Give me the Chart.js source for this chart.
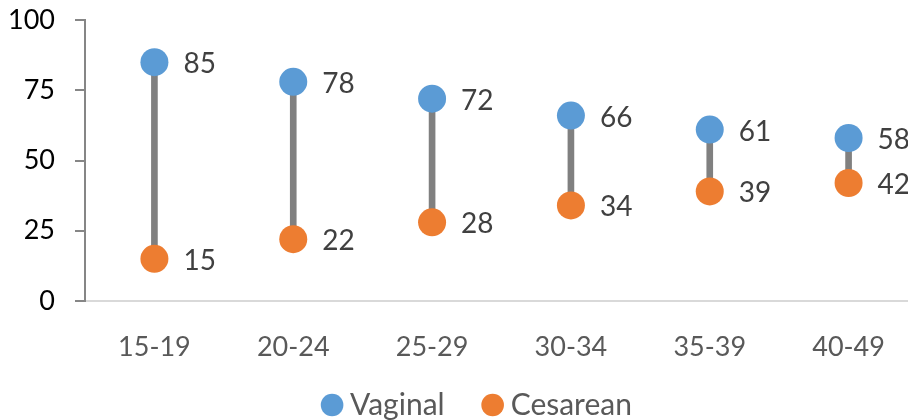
<!DOCTYPE html>
<html>
<head>
<meta charset="utf-8">
<script src="https://cdn.jsdelivr.net/npm/chart.js@4.4.0/dist/chart.umd.min.js"></script>
<style>
  body { margin: 0; background: #fff; overflow: hidden; }
  #wrap { width: 908px; height: 420px; overflow: hidden; }
</style>
</head>
<body>
<div id="wrap"><canvas id="ageChart" width="932" height="420"></canvas></div>
<script>
var ageGroups = ["15-19", "20-24", "25-29", "30-34", "35-39", "40-49"];
var vaginal = [85, 78, 72, 66, 61, 58];
var cesarean = [15, 22, 28, 34, 39, 42];
var yTicks = [0, 25, 50, 75, 100];

var ranges = ageGroups.map(function (g, i) { return [cesarean[i], vaginal[i]]; });

var pointLabels = {
    id: "pointLabels",
    afterDatasetsDraw: function (chart) {
        var ctx = chart.ctx;
        ctx.save();
        ctx.font = "28px Lato";
        ctx.fillStyle = "#404040";
        ctx.textAlign = "left";
        ctx.textBaseline = "middle";
        chart.data.datasets.forEach(function (ds, di) {
            if (ds.type !== "line") return;
            chart.getDatasetMeta(di).data.forEach(function (pt, i) {
                ctx.fillText(ds.data[i], pt.x + 29, pt.y + 2);
            });
        });
        ctx.restore();
    }
};

// short legend box, then stretch it up so the items sit where excel put them
var legendBox = {
    id: "legendBox",
    afterInit: function (chart) {
        var lg = chart.legend;
        var fit = lg.fit;
        lg.fit = function () {
            fit.call(this);
            this.height = 55;
        };
    },
    afterLayout: function (chart) {
        var lg = chart.legend;
        lg.top -= 20;
        lg.height += 20;
        lg.left += 20;
        lg.right += 20;
    }
};

var ctx = document.getElementById("ageChart");

var myChart = new Chart(ctx, {
    data: {
        labels: ageGroups,
        datasets: [{
            type: "line",
            label: "Vaginal",
            data: vaginal,
            showLine: false,
            pointRadius: 14,
            pointHoverRadius: 14,
            pointBackgroundColor: "#5B9BD5",
            pointBorderWidth: 0,
            backgroundColor: "#5B9BD5",
            order: 1
        }, {
            type: "line",
            label: "Cesarean",
            data: cesarean,
            showLine: false,
            pointRadius: 14,
            pointHoverRadius: 14,
            pointBackgroundColor: "#ED7D31",
            pointBorderWidth: 0,
            backgroundColor: "#ED7D31",
            order: 2
        }, {
            type: "bar",
            label: "range",
            data: ranges,
            backgroundColor: "#808080",
            barThickness: 6,
            order: 3
        }]
    },
    options: {
        responsive: false,
        animation: false,
        layout: { padding: { top: 20, right: 11, left: 0, bottom: 0 } },
        plugins: {
            tooltip: { enabled: false },
            legend: {
                position: "bottom",
                labels: {
                    usePointStyle: true,
                    pointStyle: "circle",
                    boxWidth: 6,
                    boxHeight: 16,
                    padding: 45,
                    color: "#595959",
                    font: { family: "Lato", size: 30 },
                    filter: function (item) { return item.text !== "range"; }
                }
            }
        },
        scales: {
            x: {
                afterFit: function (scale) { scale.height = 64; },
                grid: { display: false, drawTicks: false },
                border: { color: "#d9d9d9", width: 2 },
                ticks: { color: "#595959", font: { family: "Lato", size: 27 }, padding: 30 }
            },
            y: {
                min: 0,
                max: 100,
                afterBuildTicks: function (scale) {
                    scale.ticks = yTicks.map(function (v) { return { value: v }; });
                },
                afterFit: function (scale) {
                    scale.width = 85;
                    scale.paddingTop = 0;
                    scale.paddingBottom = 0;
                },
                grid: { drawOnChartArea: false, tickLength: 10, color: "#868686", lineWidth: 2 },
                border: { color: "#868686", width: 2 },
                ticks: { color: "#000", font: { family: "Lato", size: 27 }, padding: 20 }
            }
        }
    },
    plugins: [pointLabels, legendBox]
});
</script>
</body>
</html>
